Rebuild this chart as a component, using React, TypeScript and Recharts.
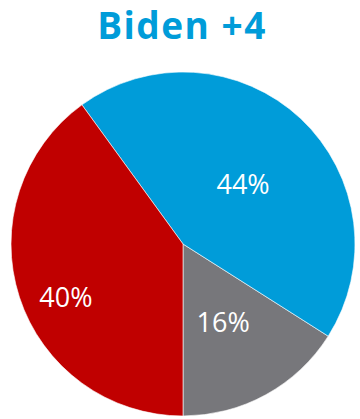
import React from "react";
import { PieChart, Pie, Cell } from "recharts";

const categories = ["Other", "Biden", "Trump"];
const values = [16, 44, 40];
const colors = ["#77777B", "#009CD9", "#C00000"];
const labelRadius = [0.506, 0.494, 0.745];
const labelAngleShift = [-1.3, -1.8, 6];

const data = categories.map((name, i) => ({ name, value: values[i] }));

const RAD = Math.PI / 180;

const renderLabel = (props: any) => {
  const { cx, cy, midAngle, outerRadius, index, value } = props;
  const r = outerRadius * labelRadius[index];
  const a = midAngle + labelAngleShift[index];
  const x = cx + r * Math.cos(-a * RAD);
  const y = cy + r * Math.sin(-a * RAD);
  return (
    <text
      x={x}
      y={y}
      fill="#ffffff"
      textAnchor="middle"
      dominantBaseline="central"
      fontFamily="'Open Sans', sans-serif"
      fontSize={27}
    >
      {`${value}%`}
    </text>
  );
};

export default function App() {
  return (
    <div style={{ position: "absolute", left: 0, top: 0, width: 360, height: 419, background: "#fff" }}>
      <div
        style={{
          position: "absolute",
          left: 0,
          top: 0,
          width: 360,
          textAlign: "center",
          paddingLeft: 4,
          boxSizing: "border-box",
          fontFamily: "'Open Sans', sans-serif",
          fontWeight: 700,
          fontSize: 37,
          letterSpacing: 1.5,
          lineHeight: "50px",
          color: "#009CD9",
        }}
      >
        Biden +4
      </div>
      <PieChart width={360} height={419} margin={{ top: 0, right: 0, bottom: 0, left: 0 }}>
        <Pie
          data={data}
          dataKey="value"
          nameKey="name"
          cx={183}
          cy={244}
          outerRadius={172}
          startAngle={-90}
          endAngle={270}
          stroke="#ffffff"
          strokeWidth={0.6}
          label={renderLabel}
          labelLine={false}
          isAnimationActive={false}
        >
          {data.map((d, i) => (
            <Cell key={d.name} fill={colors[i]} />
          ))}
        </Pie>
      </PieChart>
    </div>
  );
}
